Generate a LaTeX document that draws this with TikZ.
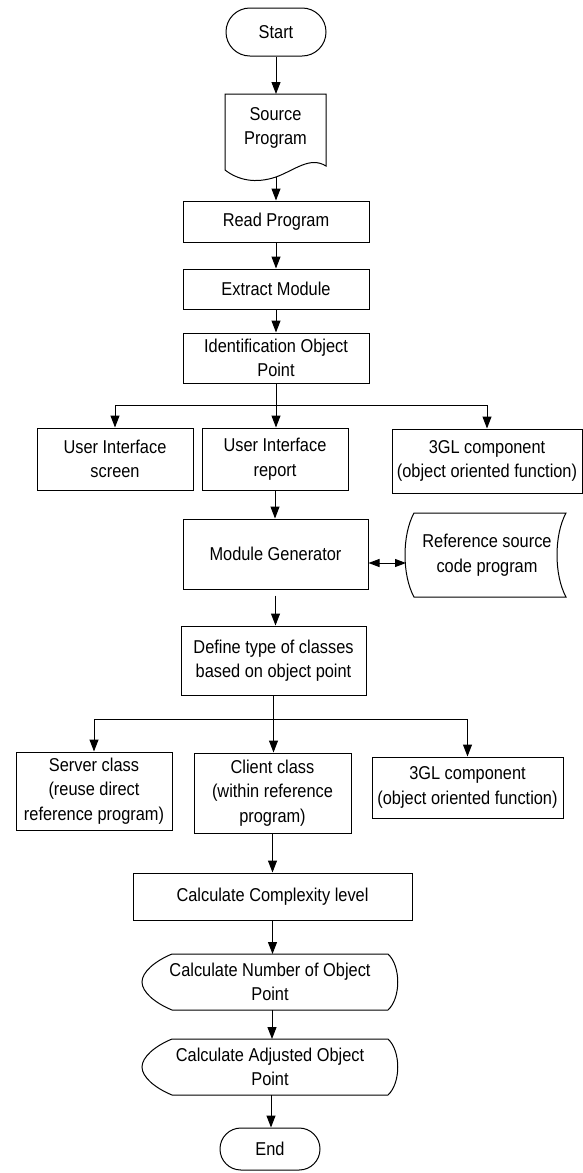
\documentclass[tikz,border=0pt]{standalone}
\usepackage{fontspec}
\setmainfont{Liberation Sans}[FakeStretch=0.88]
\usetikzlibrary{arrows.meta}
\begin{document}
\begin{tikzpicture}[x=1pt,y=-1pt,
  every node/.style={font=\fontsize{18.6}{24.5}\selectfont, align=center, inner sep=0pt},
  box/.style={draw, line width=1pt, rectangle},
  term/.style={draw, line width=1pt, rectangle},
  shp/.style={line width=1pt},
  flow/.style={line width=1pt, -{Triangle[length=12pt,width=9pt]}},
  plain/.style={line width=1pt},
  dflow/.style={line width=1pt, {Triangle[length=11pt,width=8pt]}-{Triangle[length=11pt,width=8pt]}}
]
\useasboundingbox (0,0) rectangle (583,1173);

% Start / End terminals
\node[term, rounded corners=23.9pt, minimum width=100pt, minimum height=48pt] (start) at (276,32) {Start};
\node[term, rounded corners=20.9pt, minimum width=100pt, minimum height=42pt] (end) at (270,1149) {End};

% Source Program document shape
\draw[shp] (225,94) -- (326,94) -- (326,166)
  .. controls (310,156) and (295,170) .. (276,177)
  .. controls (255,184) and (238,180) .. (225,170) -- cycle;
\node (src) at (275.5,128) {Source\\Program};
\coordinate (src-n) at (276,94);
\coordinate (src-s) at (276,177);

% Upper process boxes
\node[box, minimum width=186pt, minimum height=41pt] (read) at (276,221.5) {Read Program};
\node[box, minimum width=186pt, minimum height=40pt] (extract) at (276,289) {Extract Module};
\node[box, minimum width=186pt, minimum height=50pt] (ident) at (276,358) {Identification Object\\Point};

\node[box, minimum width=156pt, minimum height=62pt] (uis) at (115,459) {User Interface\\screen};
\node[box, minimum width=146pt, minimum height=62pt] (uir) at (275,459) {User Interface\\report};
\node[box, minimum width=190pt, minimum height=64pt] (gl1) at (487,461) {3GL component\\(object oriented function)};

\node[box, minimum width=185pt, minimum height=70pt] (mg) at (275.5,554) {Module Generator};

% Reference source code program (stored data)
\draw[shp] (414,513) -- (566,513)
  .. controls (554,535) and (554,575) .. (566,597) -- (414,597)
  .. controls (402,575) and (402,535) .. (414,513) -- cycle;
\node (refsrc) at (487,555) {Reference source\\code program};
\coordinate (ref-w) at (406,563);

\node[box, minimum width=185pt, minimum height=69pt] (define) at (273.5,660.5) {Define type of classes\\based on object point};

\node[box, minimum width=156pt, minimum height=78pt] (server) at (94,791) {Server class\\(reuse direct\\reference program)};
\node[box, minimum width=157pt, minimum height=80pt] (client) at (272.5,793) {Client class\\(within reference\\program)};
\node[box, minimum width=191pt, minimum height=61pt] (gl2) at (467.5,787.5) {3GL component\\(object oriented function)};

\node[box, minimum width=279pt, minimum height=47pt] (cplx) at (272.5,896.5) {Calculate Complexity level};

% Display shapes
\draw[shp] (172,954) -- (388,954)
  .. controls (401,966) and (401,998) .. (388,1010) -- (172,1010)
  .. controls (155,1003) and (142,992) .. (142,982)
  .. controls (142,972) and (155,961) .. (172,954) -- cycle;
\node (calcn) at (270,982) {Calculate Number of Object\\Point};
\coordinate (cn-n) at (272.5,954);
\coordinate (cn-s) at (272,1010);

\draw[shp] (172,1039) -- (388,1039)
  .. controls (401,1051) and (401,1083) .. (388,1095) -- (172,1095)
  .. controls (155,1088) and (142,1077) .. (142,1067)
  .. controls (142,1057) and (155,1046) .. (172,1039) -- cycle;
\node (calca) at (270,1067) {Calculate Adjusted Object\\Point};
\coordinate (ca-n) at (272,1039);
\coordinate (ca-s) at (271,1095);

% Connectors
\draw[flow] (start.south) -- (src-n);
\draw[flow] (src-s) -- (src-s |- read.north);
\draw[flow] (read.south) -- (extract.north);
\draw[flow] (extract.south) -- (ident.north);

\path (ident.south) ++(0,22) coordinate (b1);
\draw[plain] (ident.south) -- (b1);
\draw[flow] (b1) -| (uis.north);
\draw[flow] (b1) -| (gl1.north);
\draw[flow] (b1) -- (b1 |- uir.north);

\draw[flow] (uir.south) -- (uir.south |- mg.north);
\draw[dflow] (mg.east |- ref-w) -- (ref-w);
\draw[flow, shorten <=6pt] (mg.south) -- (mg.south |- define.north);

\path (define.south) ++(0,24) coordinate (b2);
\draw[plain] (define.south) -- (b2);
\draw[flow] (b2) -| (server.north);
\draw[flow] (b2) -| (gl2.north);
\draw[flow] (b2) -- (b2 |- client.north);

\draw[flow] (client.south) -- (client.south |- cplx.north);
\draw[flow] (cplx.south) -- (cn-n);
\draw[flow] (cn-s) -- (cn-s |- ca-n);
\draw[flow] (ca-s) -- (ca-s |- end.north);
\end{tikzpicture}
\end{document}
